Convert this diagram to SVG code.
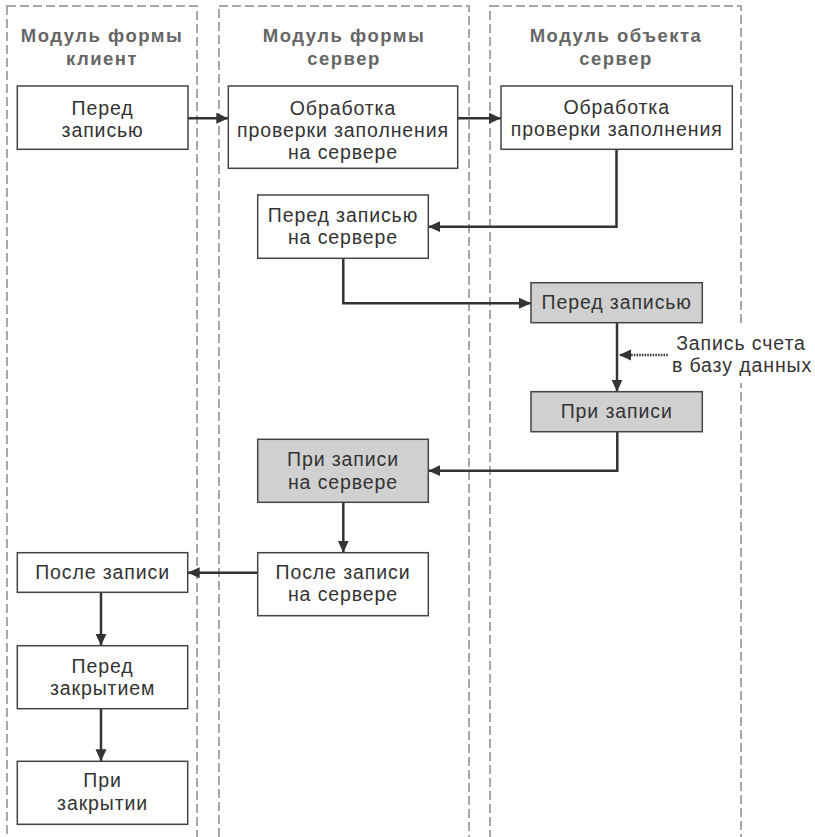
<svg xmlns="http://www.w3.org/2000/svg" width="815" height="837" viewBox="0 0 815 837">
<style>
.lane{fill:none;stroke:#a8a8a8;stroke-width:2;stroke-dasharray:9 4}
.hdr{font-family:"Liberation Sans",Arial,sans-serif;font-weight:bold;font-size:18.5px;fill:#666;text-anchor:middle;letter-spacing:1.5px}
.box{fill:#fff;stroke:#444;stroke-width:1.5}
.gbox{fill:#d0d0d0;stroke:#444;stroke-width:1.5}
.t{font-family:"Liberation Sans",Arial,sans-serif;font-size:19.5px;fill:#333;text-anchor:middle;letter-spacing:0.9px}
.c{fill:none;stroke:#333;stroke-width:2.5;marker-end:url(#ah)}
.d{fill:none;stroke:#333;stroke-width:2.5;stroke-dasharray:1.5 1.2;marker-end:url(#ah)}
</style>
<defs>
<marker id="ah" markerUnits="userSpaceOnUse" markerWidth="12" markerHeight="12" refX="12" refY="6" orient="auto">
<path d="M0,0.5 L12,6 L0,11.5 z" fill="#333"/>
</marker>
</defs>
<rect width="815" height="837" fill="#fff"/>
<g id="lanes">
<rect class="lane" x="7" y="6" width="190" height="900"/>
<rect class="lane" x="219" y="6" width="250" height="900"/>
<rect class="lane" x="490" y="6" width="251" height="900"/>
<text class="hdr" x="102" y="42">Модуль формы</text>
<text class="hdr" x="102" y="65">клиент</text>
<text class="hdr" x="344" y="42">Модуль формы</text>
<text class="hdr" x="344" y="65">сервер</text>
<text class="hdr" x="616" y="42">Модуль объекта</text>
<text class="hdr" x="616" y="65">сервер</text>
</g>
<g id="connectors">
<path class="c" d="M188,118.3 H228.3"/>
<path class="c" d="M457.7,118.3 H501"/>
<path class="c" d="M616.5,149.3 V226.7 H428.3"/>
<path class="c" d="M343.3,258.3 V303.3 H531"/>
<path class="c" d="M617,322.7 V391.7"/>
<path class="d" d="M667.7,355 H619"/>
<path class="c" d="M617.3,431.7 V470.7 H428.3"/>
<path class="c" d="M343.3,502.3 V552.7"/>
<path class="c" d="M257.7,572.7 H187.7"/>
<path class="c" d="M101,592.3 V645.7"/>
<path class="c" d="M101,708.7 V761.3"/>
</g>
<g id="note">
<rect x="669" y="325" width="146" height="58" fill="#fff"/>
<text class="t" x="741" y="349.5">Запись счета</text>
<text class="t" x="742" y="372">в базу данных</text>
</g>
<g id="n1"><rect class="box" x="17.3" y="86" width="170.7" height="63.3"/><text class="t" x="102.6" y="115">Перед</text><text class="t" x="102.6" y="137">записью</text></g>
<g id="n2"><rect class="box" x="228.3" y="86" width="229.4" height="82.3"/><text class="t" x="343" y="115">Обработка</text><text class="t" x="343" y="137">проверки заполнения</text><text class="t" x="343" y="159">на сервере</text></g>
<g id="n3"><rect class="box" x="501" y="86" width="231.3" height="63.3"/><text class="t" x="616.7" y="114">Обработка</text><text class="t" x="616.7" y="136">проверки заполнения</text></g>
<g id="n4"><rect class="box" x="257.7" y="195" width="170.6" height="63.3"/><text class="t" x="343" y="222">Перед записью</text><text class="t" x="343" y="244">на сервере</text></g>
<g id="n5"><rect class="gbox" x="531" y="282.7" width="171.3" height="40"/><text class="t" x="616.7" y="309.3">Перед записью</text></g>
<g id="n6"><rect class="gbox" x="531" y="391.7" width="171.3" height="40"/><text class="t" x="616.7" y="418.3">При записи</text></g>
<g id="n7"><rect class="gbox" x="257.7" y="439.3" width="170.6" height="63"/><text class="t" x="343" y="466">При записи</text><text class="t" x="343" y="488.5">на сервере</text></g>
<g id="n8"><rect class="box" x="257.7" y="552.7" width="170.6" height="63"/><text class="t" x="343" y="579">После записи</text><text class="t" x="343" y="601">на сервере</text></g>
<g id="n9"><rect class="box" x="17.3" y="552.7" width="170.4" height="39.6"/><text class="t" x="102.6" y="578.8">После записи</text></g>
<g id="n10"><rect class="box" x="17.3" y="645.7" width="170.4" height="63"/><text class="t" x="102.6" y="672.5">Перед</text><text class="t" x="102.6" y="694.5">закрытием</text></g>
<g id="n11"><rect class="box" x="17.3" y="761.3" width="170.4" height="63"/><text class="t" x="102.6" y="787">При</text><text class="t" x="102.6" y="809.5">закрытии</text></g>
</svg>
